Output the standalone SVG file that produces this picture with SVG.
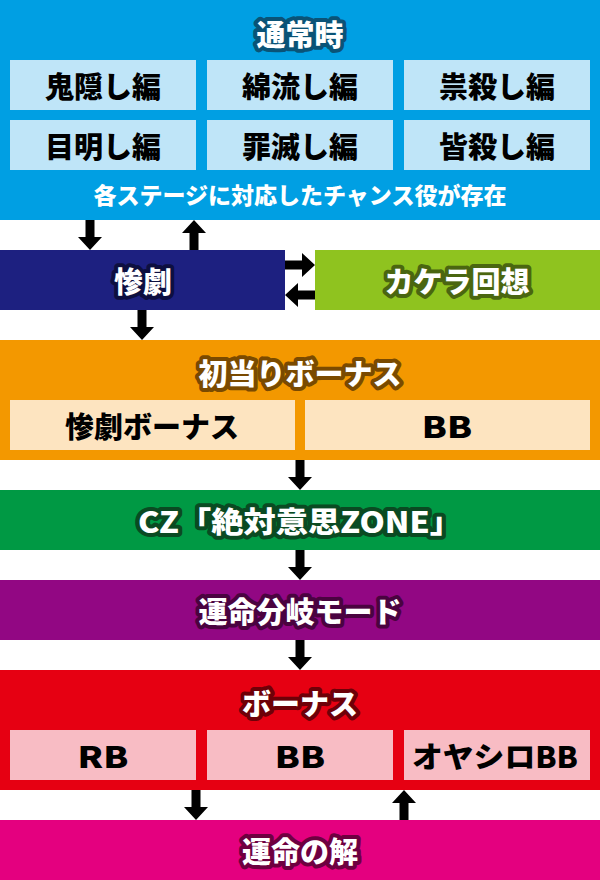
<svg xmlns="http://www.w3.org/2000/svg" width="600" height="880" viewBox="0 0 600 880">
<style>
text{font-family:"Noto Sans CJK JP","Noto Sans",sans-serif;font-weight:900;text-anchor:middle;dominant-baseline:central}
.t{font-size:29px;fill:#fff;stroke-width:8px;stroke-linejoin:round;paint-order:stroke}
.b{font-size:29px;fill:#000}
.s{font-size:23px;fill:#fff}
</style>
<defs>
<path id="ad" d="M-4.5,-30 H4.5 V-13 H12 L0,0 L-12,-13 H-4.5 Z" fill="#000"/>
</defs>
<rect width="600" height="880" fill="#fff"/>
<g id="normal">
<rect x="0" y="0" width="600" height="220" fill="#009fe3"/>
<text class="t" x="300" y="33" stroke="#0a5377">通常時</text>
<g fill="#bfe5f8">
<rect x="10" y="60" width="186" height="50"/><rect x="207" y="60" width="186" height="50"/><rect x="404" y="60" width="186" height="50"/>
<rect x="10" y="120" width="186" height="50"/><rect x="207" y="120" width="186" height="50"/><rect x="404" y="120" width="186" height="50"/>
</g>
<text class="b" x="103" y="85">鬼隠し編</text><text class="b" x="300" y="85">綿流し編</text><text class="b" x="497" y="85">祟殺し編</text>
<text class="b" x="103" y="145">目明し編</text><text class="b" x="300" y="145">罪滅し編</text><text class="b" x="497" y="145">皆殺し編</text>
<text class="s" x="300" y="194">各ステージに対応したチャンス役が存在</text>
</g>
<g id="sangeki">
<rect x="0" y="250" width="285" height="60" fill="#1d2080"/>
<text class="t" x="143" y="280" stroke="#0d0f40">惨劇</text>
</g>
<g id="kakera">
<rect x="315" y="250" width="285" height="60" fill="#8fc31f"/>
<text class="t" x="457" y="280" stroke="#4a6610">カケラ回想</text>
</g>
<g id="first-bonus">
<rect x="0" y="340" width="600" height="120" fill="#f39800"/>
<text class="t" x="300" y="372" stroke="#7a4a00">初当りボーナス</text>
<rect x="10" y="400" width="285" height="50" fill="#fde4c0"/><rect x="305" y="400" width="285" height="50" fill="#fde4c0"/>
<text class="b" x="152" y="425">惨劇ボーナス</text><text class="b" transform="translate(447,425) scale(1.25,1)">BB</text>
</g>
<g id="cz">
<rect x="0" y="490" width="600" height="60" fill="#009944"/>
<text class="t" x="300" y="520" stroke="#0a4a22" textLength="324" lengthAdjust="spacingAndGlyphs">CZ「絶対意思ZONE」</text>
</g>
<g id="unmei-mode">
<rect x="0" y="580" width="600" height="60" fill="#920783"/>
<text class="t" x="300" y="610" stroke="#4a0340">運命分岐モード</text>
</g>
<g id="bonus">
<rect x="0" y="670" width="600" height="120" fill="#e60012"/>
<text class="t" x="300" y="702" stroke="#6e0008">ボーナス</text>
<g fill="#f8bcc4">
<rect x="10" y="730" width="186" height="50"/><rect x="207" y="730" width="186" height="50"/><rect x="404" y="730" width="186" height="50"/>
</g>
<text class="b" transform="translate(103,755) scale(1.25,1)">RB</text><text class="b" transform="translate(300,755) scale(1.25,1)">BB</text><text class="b" x="495" y="755" textLength="166" lengthAdjust="spacingAndGlyphs">オヤシロBB</text>
</g>
<g id="unmei-kai">
<rect x="0" y="820" width="600" height="60" fill="#e4007f"/>
<text class="t" x="300" y="850" stroke="#6e0040">運命の解</text>
</g>
<g id="connectors">
<use href="#ad" transform="translate(90,250)"/>
<use href="#ad" transform="translate(194,220) rotate(180)"/>
<use href="#ad" transform="translate(315,265) rotate(-90)"/>
<use href="#ad" transform="translate(285,295) rotate(90)"/>
<use href="#ad" transform="translate(142,340)"/>
<use href="#ad" transform="translate(300,490)"/>
<use href="#ad" transform="translate(300,580)"/>
<use href="#ad" transform="translate(300,670)"/>
<use href="#ad" transform="translate(196,820)"/>
<use href="#ad" transform="translate(404,790) rotate(180)"/>
</g>
</svg>
